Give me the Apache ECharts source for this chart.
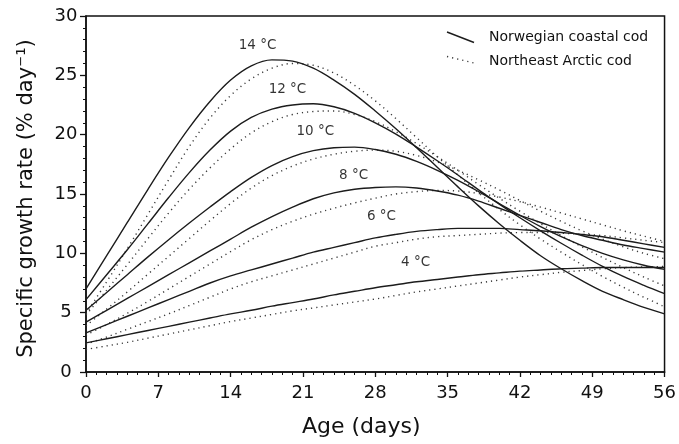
<!DOCTYPE html>
<html>
<head>
<meta charset="utf-8">
<script src="https://cdn.jsdelivr.net/npm/echarts@6/dist/echarts.min.js"></script>
<style>
  html, body { margin: 0; padding: 0; background: #fff; }
  #chart { width: 679px; height: 444px; }
</style>
</head>
<body>
<div id="chart"></div>
<script>
// Larval age (days) at which the growth curves are tabulated
const ages = [0, 2, 4, 6, 8, 10, 12, 14, 16, 18, 20, 22, 24, 26, 28,
              30, 32, 34, 36, 38, 40, 42, 44, 46, 48, 50, 52, 54, 56];

// Specific growth rate (% per day), Norwegian coastal cod
const coastal14 = [7.0, 9.8, 12.6, 15.4, 18.1, 20.6, 22.8, 24.6, 25.8, 26.3, 26.2, 25.6, 24.6, 23.4, 22.0,
                   20.5, 18.9, 17.25, 15.6, 14.0, 12.5, 11.1, 9.8, 8.7, 7.7, 6.8, 6.1, 5.45, 4.9];
const coastal12 = [6.1, 8.2, 10.3, 12.5, 14.7, 16.8, 18.7, 20.3, 21.45, 22.15, 22.5, 22.6, 22.35, 21.8, 21.0,
                   20.05, 18.95, 17.8, 16.6, 15.35, 14.15, 13.0, 11.9, 10.85, 9.85, 8.9, 8.05, 7.3, 6.6];
const coastal10 = [5.2, 6.7, 8.2, 9.7, 11.15, 12.55, 13.9, 15.2, 16.4, 17.4, 18.15, 18.65, 18.9, 18.95, 18.75,
                   18.35, 17.75, 17.0, 16.15, 15.2, 14.2, 13.2, 12.25, 11.4, 10.65, 10.0, 9.45, 9.0, 8.65];
const coastal8  = [4.2, 5.2, 6.2, 7.2, 8.2, 9.2, 10.2, 11.2, 12.2, 13.1, 13.9, 14.6, 15.1, 15.4, 15.55,
                   15.6, 15.5, 15.25, 14.9, 14.4, 13.8, 13.2, 12.6, 12.0, 11.5, 11.1, 10.7, 10.4, 10.1];
const coastal6  = [3.3, 4.0, 4.7, 5.4, 6.1, 6.8, 7.5, 8.1, 8.6, 9.1, 9.6, 10.1, 10.5, 10.9, 11.3,
                   11.6, 11.85, 12.0, 12.1, 12.1, 12.1, 12.0, 11.9, 11.75, 11.6, 11.4, 11.1, 10.8, 10.5];
const coastal4  = [2.45, 2.8, 3.15, 3.5, 3.85, 4.2, 4.55, 4.9, 5.2, 5.55, 5.85, 6.15, 6.5, 6.8, 7.1,
                   7.35, 7.6, 7.8, 8.0, 8.2, 8.35, 8.5, 8.6, 8.7, 8.75, 8.8, 8.8, 8.8, 8.8];

// Specific growth rate (% per day), Northeast Arctic cod
const arctic14 = [4.9, 7.6, 10.4, 13.3, 16.2, 19.0, 21.4, 23.3, 24.7, 25.6, 26.0, 25.85, 25.2, 24.15, 22.85,
                  21.35, 19.75, 18.15, 16.6, 15.1, 13.7, 12.4, 11.2, 10.1, 9.05, 8.05, 7.15, 6.3, 5.5];
const arctic12 = [4.8, 6.9, 9.05, 11.25, 13.4, 15.4, 17.2, 18.8, 20.15, 21.1, 21.7, 21.95, 22.0, 21.7, 21.1,
                  20.25, 19.25, 18.15, 17.0, 15.8, 14.65, 13.55, 12.5, 11.5, 10.55, 9.65, 8.8, 8.0, 7.25];
const arctic10 = [3.9, 5.3, 6.75, 8.25, 9.75, 11.25, 12.75, 14.2, 15.5, 16.55, 17.35, 17.95, 18.35, 18.6, 18.7,
                  18.6, 18.25, 17.7, 17.0, 16.2, 15.35, 14.45, 13.55, 12.7, 11.9, 11.2, 10.55, 10.0, 9.55];
const arctic8  = [3.1, 4.0, 4.95, 5.95, 7.0, 8.05, 9.1, 10.15, 11.15, 12.0, 12.7, 13.3, 13.8, 14.25, 14.65,
                  15.0, 15.2, 15.3, 15.25, 15.05, 14.75, 14.35, 13.9, 13.4, 12.9, 12.4, 11.9, 11.45, 11.0];
const arctic6  = [2.35, 2.95, 3.6, 4.25, 4.9, 5.6, 6.3, 7.0, 7.6, 8.1, 8.6, 9.1, 9.6, 10.1, 10.6,
                  10.9, 11.2, 11.4, 11.5, 11.6, 11.7, 11.75, 11.75, 11.7, 11.6, 11.5, 11.3, 11.1, 10.9];
const arctic4  = [1.9, 2.2, 2.5, 2.85, 3.2, 3.55, 3.9, 4.25, 4.55, 4.85, 5.15, 5.4, 5.65, 5.9, 6.15,
                  6.45, 6.75, 7.0, 7.25, 7.5, 7.75, 8.0, 8.2, 8.4, 8.55, 8.7, 8.8, 8.85, 8.9];

// Temperature labels placed beside the curves (age, rate, text)
const tempLabelAges  = [16.6, 19.5, 22.2, 25.9, 28.6, 31.9];
const tempLabelRates = [27.5, 23.8, 20.3, 16.6, 13.1, 9.2];
const tempLabelTexts = ['14 °C', '12 °C', '10 °C', '8 °C', '6 °C', '4 °C'];

// Axis ticks
const ageTicks = { min: 0, max: 56, interval: 7 };
const rateTicks = { min: 0, max: 30, interval: 5 };

const FONT = 'DejaVu Sans';
const INK = '#111111';

function pairs(values) {
  return ages.map((a, i) => [a, values[i]]);
}

function coastalSeries(name, values) {
  return {
    name: name, type: 'line', data: pairs(values),
    smooth: 0.35, symbol: 'none', silent: true, z: 4,
    lineStyle: { color: '#1c1c1c', width: 1.4 }
  };
}

function arcticSeries(name, values) {
  return {
    name: name, type: 'line', data: pairs(values),
    smooth: 0.35, symbol: 'none', silent: true, z: 3,
    lineStyle: { color: '#3a3a3a', width: 1.4, type: [1.2, 4] }
  };
}

const series = [
  coastalSeries('coastal 14', coastal14),
  coastalSeries('coastal 12', coastal12),
  coastalSeries('coastal 10', coastal10),
  coastalSeries('coastal 8', coastal8),
  coastalSeries('coastal 6', coastal6),
  coastalSeries('coastal 4', coastal4),
  arcticSeries('arctic 14', arctic14),
  arcticSeries('arctic 12', arctic12),
  arcticSeries('arctic 10', arctic10),
  arcticSeries('arctic 8', arctic8),
  arcticSeries('arctic 6', arctic6),
  arcticSeries('arctic 4', arctic4),
  {
    name: 'temperature', type: 'scatter', silent: true, z: 6,
    symbolSize: 0,
    data: tempLabelAges.map((a, i) => ({ value: [a, tempLabelRates[i]], name: tempLabelTexts[i] })),
    label: {
      show: true, position: 'inside', formatter: p => p.name,
      fontFamily: FONT, fontSize: 13.5, color: '#000'
    }
  }
];

const chart = echarts.init(document.getElementById('chart'), null, { renderer: 'canvas' });

chart.setOption({
  animation: false,
  backgroundColor: '#ffffff',
  grid: {
    left: 86, right: 12, top: 16, bottom: 72,
    show: true, borderColor: INK, borderWidth: 1.5, backgroundColor: 'transparent'
  },
  xAxis: {
    type: 'value', min: ageTicks.min, max: ageTicks.max, interval: ageTicks.interval,
    name: 'Age (days)', nameLocation: 'middle', nameGap: 44,
    nameTextStyle: { fontFamily: FONT, fontSize: 22, color: INK, padding: [0, 28, 0, 0] },
    axisLine: { show: true, lineStyle: { color: INK, width: 1.5 } },
    axisTick: { show: true, length: 5, lineStyle: { color: INK, width: 1.3 } },
    minorTick: { show: true, splitNumber: 7, length: 3, lineStyle: { color: INK, width: 1 } },
    axisLabel: { fontFamily: FONT, fontSize: 18, color: INK, margin: 12 },
    splitLine: { show: false }
  },
  yAxis: {
    type: 'value', min: rateTicks.min, max: rateTicks.max, interval: rateTicks.interval,
    name: 'Specific growth rate (% day⁻¹)', nameLocation: 'middle', nameGap: 49,
    nameTextStyle: { fontFamily: FONT, fontSize: 21, color: INK, padding: [0, 9, 0, 0] },
    axisLine: { show: true, lineStyle: { color: INK, width: 1.5 } },
    axisTick: { show: true, length: 6, lineStyle: { color: INK, width: 1.3 } },
    minorTick: { show: true, splitNumber: 5, length: 3, lineStyle: { color: INK, width: 1 } },
    axisLabel: { fontFamily: FONT, fontSize: 18, color: INK, margin: 20, align: 'center' },
    splitLine: { show: false }
  },
  graphic: [
    // legend keys: slanted line samples with their captions
    { type: 'line', shape: { x1: 447, y1: 32, x2: 474, y2: 42.5 }, style: { stroke: '#1c1c1c', lineWidth: 1.4 }, z: 10 },
    { type: 'line', shape: { x1: 447, y1: 56.5, x2: 474, y2: 63 }, style: { stroke: '#3a3a3a', lineWidth: 1.4, lineDash: [1.2, 4] }, z: 10 },
    { type: 'text', left: 489, top: 30, style: { text: 'Norwegian coastal cod', font: '14px "DejaVu Sans"', fill: INK }, z: 10 },
    { type: 'text', left: 489, top: 54, style: { text: 'Northeast Arctic cod', font: '14px "DejaVu Sans"', fill: INK }, z: 10 }
  ],
  series: series
});
</script>
</body>
</html>
